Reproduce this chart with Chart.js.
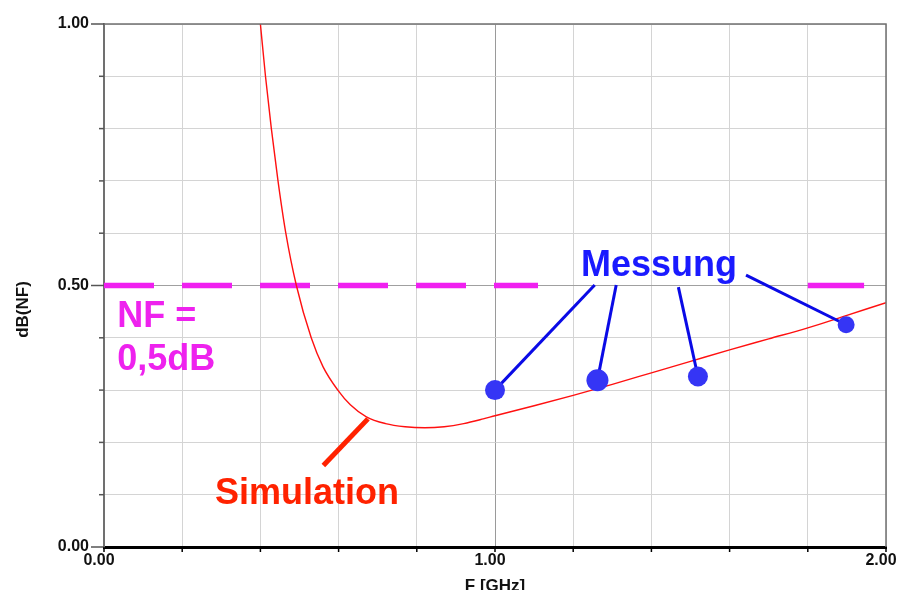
<!DOCTYPE html>
<html>
<head>
<meta charset="utf-8">
<script src="https://cdn.jsdelivr.net/npm/chart.js@4"></script>
<style>
  html, body { margin: 0; padding: 0; background: #fff; }
</style>
</head>
<body>
<canvas id="nfChart" width="897" height="590"></canvas>
<script>
// Simulation (rote Kurve)
const simFreq = [0.40, 0.413, 0.428, 0.445, 0.465, 0.492, 0.53, 0.56, 0.598, 0.63, 0.671, 0.72, 0.77, 0.82, 0.87, 0.92, 0.97, 1.00, 1.10, 1.20, 1.30, 1.40, 1.50, 1.60, 1.70, 1.80, 1.90, 2.00];
const simNF   = [1.00, 0.90, 0.80, 0.70, 0.60, 0.50, 0.40, 0.345, 0.30, 0.272, 0.249, 0.236, 0.230, 0.228, 0.230, 0.236, 0.245, 0.251, 0.270, 0.290, 0.311, 0.333, 0.355, 0.377, 0.398, 0.419, 0.443, 0.467];

// Messung (blaue Punkte)
const measFreq = [1.00, 1.262, 1.519, 1.898];
const measNF   = [0.300, 0.319, 0.326, 0.425];

// Grenzwert NF = 0,5dB
const nfLimit = 0.5;

// Achsen
const xLabelTicks = [0, 1, 2];
const yLabelTicks = [0, 0.5, 1];

const FONT = '"Liberation Sans", Arial, sans-serif';
const near = (a, b) => Math.abs(a - b) < 1e-6;

// Beschriftungen im Diagramm (Datenkoordinaten)
const notes = [
  { text: 'Messung',    x: 1.22,  y: 0.518, color: '#1a1aff' },
  { text: 'Simulation', x: 0.284, y: 0.083, color: '#ff2200' },
  { text: 'NF =',       x: 0.034, y: 0.421, color: '#ee22ee' },
  { text: '0,5dB',      x: 0.034, y: 0.338, color: '#ee22ee' }
];
const messLeaderFrom = [[1.255, 0.501], [1.310, 0.501], [1.469, 0.497], [1.642, 0.520]];
const simLeader = [[0.561, 0.156], [0.675, 0.245]];

const pts = (xs, ys) => xs.map((x, i) => ({ x: x, y: ys[i] }));

const datasets = [
  {
    label: 'Messung',
    data: pts(measFreq, measNF),
    showLine: false,
    backgroundColor: '#3535f5',
    borderWidth: 0,
    pointRadius: [10, 11, 10, 8.5],
    order: 0
  },
  {
    label: 'Simulation',
    data: pts(simFreq, simNF),
    showLine: true,
    borderColor: '#ff1010',
    borderWidth: 1.4,
    pointRadius: 0,
    cubicInterpolationMode: 'monotone',
    order: 2
  },
  {
    label: 'NF-Grenze',
    data: [{ x: 0, y: nfLimit }, { x: 1.11, y: nfLimit }],
    showLine: true,
    borderColor: '#f020f0',
    borderWidth: 5.5,
    borderDash: [50, 28],
    borderCapStyle: 'butt',
    pointRadius: 0,
    order: 3
  },
  {
    label: 'NF-Grenze 2',
    data: [{ x: 1.80, y: nfLimit }, { x: 1.944, y: nfLimit }],
    showLine: true,
    borderColor: '#f020f0',
    borderWidth: 5.5,
    borderCapStyle: 'butt',
    pointRadius: 0,
    order: 3
  },
  {
    label: 'Sim-Pfeil',
    data: simLeader.map(p => ({ x: p[0], y: p[1] })),
    showLine: true,
    borderColor: '#ff2200',
    borderWidth: 5,
    pointRadius: 0,
    order: 1
  }
];

messLeaderFrom.forEach((p, i) => {
  datasets.push({
    label: 'Mess-Pfeil ' + (i + 1),
    data: [{ x: p[0], y: p[1] }, { x: measFreq[i], y: measNF[i] }],
    showLine: true,
    borderColor: '#0a0ae6',
    borderWidth: 3,
    pointRadius: 0,
    order: 1
  });
});

// Tickstriche, Rahmen, Achsentitel und Texte
const decorations = {
  id: 'decorations',
  afterDatasetsDraw(chart) {
    const ctx = chart.ctx;
    const xs = chart.scales.x, ys = chart.scales.y;
    ctx.save();
    ctx.font = 'bold 36px ' + FONT;
    ctx.textAlign = 'left';
    ctx.textBaseline = 'alphabetic';
    notes.forEach(n => {
      ctx.fillStyle = n.color;
      ctx.fillText(n.text, xs.getPixelForValue(n.x), ys.getPixelForValue(n.y));
    });
    ctx.restore();
  },
  afterDraw(chart) {
    const ctx = chart.ctx;
    const a = chart.chartArea;
    const xs = chart.scales.x, ys = chart.scales.y;
    ctx.save();
    // Rahmen oben und rechts
    ctx.strokeStyle = '#707070';
    ctx.lineWidth = 1.5;
    ctx.beginPath();
    ctx.moveTo(a.left, a.top);
    ctx.lineTo(a.right, a.top);
    ctx.lineTo(a.right, a.bottom);
    ctx.stroke();
    // Tickstriche y
    ctx.strokeStyle = '#555';
    ctx.lineWidth = 1.5;
    ys.ticks.forEach(t => {
      const py = ys.getPixelForValue(t.value);
      const major = yLabelTicks.some(v => near(v, t.value));
      ctx.beginPath();
      ctx.moveTo(a.left - (major ? 13 : 5), py);
      ctx.lineTo(a.left, py);
      ctx.stroke();
    });
    // Tickstriche x
    ctx.strokeStyle = '#000';
    xs.ticks.forEach(t => {
      const px = xs.getPixelForValue(t.value);
      ctx.beginPath();
      ctx.moveTo(px, a.bottom);
      ctx.lineTo(px, a.bottom + 5);
      ctx.stroke();
    });
    // Achsentitel
    ctx.fillStyle = '#111';
    ctx.font = 'bold 17px ' + FONT;
    ctx.textAlign = 'center';
    ctx.textBaseline = 'alphabetic';
    ctx.fillText('F [GHz]', xs.getPixelForValue(1), 591);
    ctx.translate(28, (a.top + a.bottom) / 2 + 24);
    ctx.rotate(-Math.PI / 2);
    ctx.fillText('dB(NF)', 0, 0);
    ctx.restore();
  }
};

new Chart(document.getElementById('nfChart'), {
  type: 'scatter',
  data: { datasets: datasets },
  options: {
    responsive: false,
    animation: false,
    layout: { padding: { top: 24, right: 10, left: 0, bottom: 0 } },
    plugins: {
      legend: { display: false },
      tooltip: { enabled: false }
    },
    scales: {
      x: {
        type: 'linear',
        min: 0,
        max: 2,
        afterFit(scale) {
          scale.height = 43;
          scale.paddingLeft = 0;
          scale.paddingRight = 0;
        },
        ticks: {
          stepSize: 0.2,
          autoSkip: false,
          maxRotation: 0,
          padding: 4,
          labelOffset: -5,
          color: '#111',
          font: { family: FONT, size: 16, weight: 'bold' },
          callback: v => xLabelTicks.some(t => near(t, v)) ? Number(v).toFixed(2) : ''
        },
        grid: {
          drawTicks: false,
          lineWidth: 1,
          color: c => (c.tick && near(c.tick.value, 1)) ? '#9a9a9a' : '#d4d4d4'
        },
        border: { color: '#000', width: 3 }
      },
      y: {
        type: 'linear',
        min: 0,
        max: 1,
        afterFit(scale) {
          scale.width = 104;
          scale.paddingTop = 0;
          scale.paddingBottom = 0;
        },
        ticks: {
          stepSize: 0.1,
          autoSkip: false,
          padding: 15,
          color: '#111',
          font: { family: FONT, size: 16, weight: 'bold' },
          callback: v => yLabelTicks.some(t => near(t, v)) ? Number(v).toFixed(2) : ''
        },
        grid: {
          drawTicks: false,
          lineWidth: 1,
          color: c => (c.tick && near(c.tick.value, 0.5)) ? '#a0a0a0' : '#d4d4d4'
        },
        border: { color: '#707070', width: 2 }
      }
    }
  },
  plugins: [decorations]
});
</script>
</body>
</html>
